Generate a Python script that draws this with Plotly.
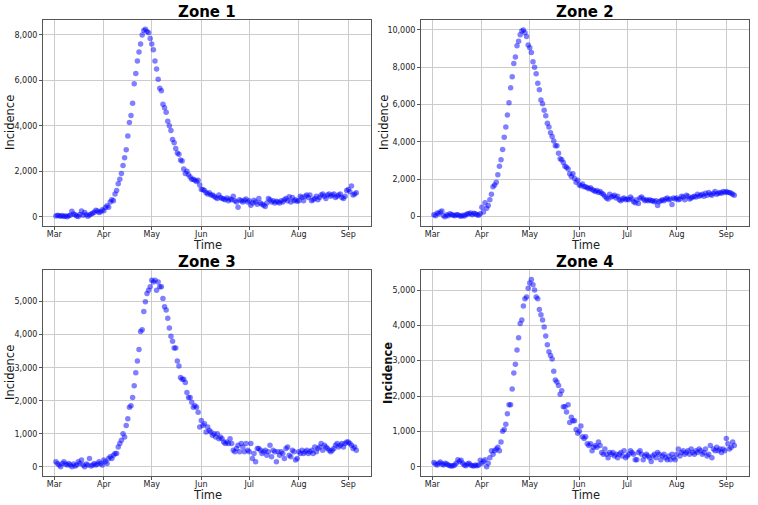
import pandas as pd
import plotly.graph_objects as go

dates = pd.date_range("2020-03-02", "2020-09-06", freq="D")

zone1 = (
    [30, 60, 40, 20, 50, 10, 30, 0, 40, 60, 240, 120, 80, 30, 10, 100, 250, 60, 180, 90,
     20, 70, 120, 150, 200, 280, 250, 180, 220, 300]
    + [260, 400, 480, 420, 650, 750, 700, 1000, 1150, 1450, 1650, 1900, 2250, 2600, 2950, 3550, 4150, 4450, 5000, 5850,
       6300, 6850, 7250, 7600, 8000, 8200, 8250, 8150, 8100, 7850]
    + [7600, 7350, 6850, 6500, 6050, 5650, 5550, 4950, 4800, 4600, 4200, 4000, 3800, 3400, 3250, 3000, 2800, 2750, 2500, 2450,
       2100, 1900, 2000, 1850, 1750, 1650, 1650, 1600, 1550, 1600, 1400]
    + [1200, 1200, 1150, 1050, 1000, 1050, 950, 950, 900, 850, 800, 950, 850, 800, 780, 750, 820, 700, 780, 750,
       900, 700, 650, 420, 750, 700, 650, 720, 780, 650]
    + [700, 500, 600, 720, 650, 550, 800, 600, 550, 500, 450, 600, 800, 750, 650, 700, 600, 680, 650, 600,
       700, 650, 750, 800, 700, 880, 650, 850, 700, 750, 680]
    + [700, 900, 850, 700, 900, 950, 850, 950, 700, 750, 800, 900, 750, 850, 950, 1000, 900, 800, 950, 1000,
       900, 950, 1000, 850, 900, 950, 1000, 850, 800, 900, 1150]
    + [1200, 1100, 1350, 950, 1000, 1050]
)

zone2 = (
    [100, 50, 200, 150, 250, 300, 50, 0, 100, 50, 150, 120, 80, 50, 100, 100, 50, 20, 80, 30,
     100, 150, 150, 200, 100, 180, 150, 100, 80, 150]
    + [500, 250, 750, 450, 600, 900, 1200, 1600, 1700, 1850, 2250, 2700, 3050, 3600, 4250, 4800, 5450, 6100, 6900, 7500,
       8200, 8550, 9150, 9400, 9750, 9950, 10000, 9850, 9650, 9200]
    + [9050, 8800, 8300, 8000, 7650, 7150, 6800, 6250, 6050, 5700, 5400, 5000, 4800, 4500, 4300, 4050, 3800, 3800, 3400, 3100,
       3050, 2900, 2700, 2650, 2550, 2300, 2150, 2300, 2050, 1850, 1950]
    + [1700, 1650, 1750, 1600, 1600, 1550, 1500, 1550, 1450, 1400, 1350, 1400, 1300, 1350, 1250, 1200, 1100, 1000, 950, 1200,
       1050, 1100, 1150, 1000, 1100, 900, 850, 950, 1000, 900]
    + [950, 900, 1050, 950, 800, 750, 900, 700, 1000, 1050, 950, 850, 900, 850, 900, 850, 850, 800, 850, 600,
       800, 850, 900, 850, 950, 1000, 900, 950, 650, 1000, 950]
    + [1000, 900, 950, 1100, 1050, 900, 1150, 1100, 950, 1000, 1050, 1100, 1050, 1200, 1100, 1150, 1200, 1100, 1250, 1150,
       1300, 1200, 1150, 1250, 1350, 1200, 1250, 1300, 1250, 1350, 1300]
    + [1350, 1300, 1300, 1250, 1200, 1150]
)

zone3 = (
    [150, 100, 50, 0, 100, 150, 80, 50, 100, 50, 0, 80, 20, 50, 150, 100, 200, 50, 0, 80,
     50, 250, 20, 50, 100, 50, 80, 150, 100, 50]
    + [200, 150, 100, 250, 300, 250, 350, 400, 400, 600, 700, 800, 1000, 900, 1250, 1450, 1800, 1850, 2100, 2450,
       2850, 3200, 3550, 4100, 4150, 4700, 5000, 5250, 5350, 5450]
    + [5650, 5600, 5650, 5350, 5600, 5450, 5450, 5100, 4850, 4750, 4500, 4200, 3950, 3800, 3600, 3600, 3200, 3050, 2700, 2650,
       2650, 2550, 2250, 2100, 2100, 1950, 1800, 1850, 1800, 1650, 1200]
    + [1400, 1250, 1300, 1050, 1200, 1100, 1050, 950, 1000, 900, 1000, 850, 900, 850, 750, 700, 750, 700, 850, 700,
       500, 450, 550, 650, 450, 700, 600, 450, 700, 500]
    + [450, 700, 250, 400, 150, 550, 550, 500, 400, 450, 500, 350, 450, 650, 300, 500, 450, 150, 450, 350,
       450, 400, 250, 550, 600, 350, 300, 500, 450, 200, 250]
    + [450, 400, 500, 400, 450, 500, 400, 450, 500, 400, 600, 450, 550, 600, 700, 500, 650, 600, 550, 500,
       450, 500, 550, 650, 700, 600, 650, 700, 600, 700, 750]
    + [750, 700, 650, 550, 600, 500]
)

zone4 = (
    [120, 80, 50, 100, 130, 80, 50, 100, 80, 50, 30, 20, 30, 50, 100, 200, 150, 180, 100, 50,
     30, 80, 100, 50, 30, 20, 50, 30, 50, 180]
    + [100, 150, 200, 0, 100, 250, 450, 350, 450, 500, 550, 450, 700, 1000, 1050, 1200, 1500, 1750, 1750, 2200,
       2650, 2900, 3300, 3650, 4050, 4150, 4550, 4750, 4800, 5050]
    + [5200, 5300, 5150, 5000, 4800, 4750, 4450, 4300, 4150, 3950, 3700, 3450, 3250, 3150, 3050, 2700, 2450, 2400, 2300, 2050,
       2150, 1700, 1700, 1550, 1750, 1250, 1400, 1300, 1300, 1050, 950]
    + [1000, 1150, 850, 800, 850, 650, 600, 650, 450, 550, 600, 550, 700, 600, 400, 350, 500, 350, 250, 400,
       350, 400, 300, 350, 250, 350, 400, 300, 450, 250]
    + [300, 350, 450, 400, 350, 200, 200, 400, 450, 350, 200, 300, 350, 300, 250, 150, 300, 350, 250, 400,
       350, 200, 300, 350, 250, 200, 300, 200, 350, 250, 200]
    + [350, 500, 300, 400, 450, 350, 400, 450, 350, 500, 400, 350, 450, 400, 500, 450, 350, 400, 500, 300,
       350, 600, 250, 500, 450, 550, 450, 500, 400, 500, 450]
    + [800, 650, 500, 550, 700, 600]
)

zones = [zone1, zone2, zone3, zone4]
titles = ["Zone 1", "Zone 2", "Zone 3", "Zone 4"]
month_ticks = ["2020-03-01", "2020-04-01", "2020-05-01", "2020-06-01", "2020-07-01", "2020-08-01", "2020-09-01"]
month_labels = ["Mar", "Apr", "May", "Jun", "Jul", "Aug", "Sep"]
y_ticks = [
    [0, 2000, 4000, 6000, 8000],
    [0, 2000, 4000, 6000, 8000, 10000],
    [0, 1000, 2000, 3000, 4000, 5000],
    [0, 1000, 2000, 3000, 4000, 5000],
]
y_ranges = [[-410, 8660], [-500, 10535], [-282, 5960], [-263, 5566]]

W, H = 758, 505
x_doms = [[43 / W, 371 / W], [421 / W, 749 / W], [43 / W, 371 / W], [421 / W, 749 / W]]
y_doms = [[1 - 226 / H, 1 - 20 / H], [1 - 226 / H, 1 - 20 / H], [1 - 476 / H, 1 - 270 / H], [1 - 476 / H, 1 - 270 / H]]
x_range = ["2020-02-22 22:00:00", "2020-09-15 05:00:00"]

FONT = "DejaVu Sans"
fig = go.Figure()
layout = {}
annotations = []
ylab_x = [10, 384, 10, 388]
for i in range(4):
    n = "" if i == 0 else str(i + 1)
    fig.add_trace(go.Scatter(
        x=dates, y=zones[i], mode="markers",
        marker=dict(color="rgb(0,0,255)", size=5.5, opacity=0.5, line=dict(width=0)),
        xaxis="x" + n, yaxis="y" + n, showlegend=False,
    ))
    axcommon = dict(
        showgrid=True, gridcolor="#cccccc", gridwidth=1, zeroline=False,
        showline=True, mirror=True, linecolor="#555555", linewidth=1,
        ticks="outside", ticklen=3, tickcolor="#555555",
        tickfont=dict(family=FONT, size=8, color="#222222"), automargin=False,
    )
    layout["xaxis" + n] = dict(
        axcommon, domain=x_doms[i], range=x_range, type="date",
        tickvals=month_ticks, ticktext=month_labels, anchor="y" + n,
        ticklabelstandoff=-3,
    )
    layout["yaxis" + n] = dict(
        axcommon, domain=y_doms[i], range=y_ranges[i],
        tickvals=y_ticks[i], tickformat=",", anchor="x" + n,
    )
    xc = (x_doms[i][0] + x_doms[i][1]) / 2
    top_px = 20 if i < 2 else 270
    bot_px = 226 if i < 2 else 476
    annotations.append(dict(
        text="<b>" + titles[i] + "</b>", x=xc, y=1 - (top_px - 8) / H, xref="paper", yref="paper",
        showarrow=False, font=dict(family=FONT, size=15, color="black"), yanchor="middle", xanchor="center",
    ))
    annotations.append(dict(
        text="Time", x=xc, y=1 - (bot_px + 19) / H, xref="paper", yref="paper",
        showarrow=False, font=dict(family=FONT, size=11.5, color="#222222"), yanchor="middle", xanchor="center",
    ))
    ylab = "<b>Incidence</b>" if i == 3 else "Incidence"
    annotations.append(dict(
        text=ylab, x=ylab_x[i] / W, y=1 - ((top_px + bot_px) / 2) / H, xref="paper", yref="paper",
        showarrow=False, textangle=-90, font=dict(family=FONT, size=11.5, color="#111111"),
        yanchor="middle", xanchor="center",
    ))

fig.update_layout(
    **layout,
    annotations=annotations,
    width=W, height=H,
    margin=dict(l=0, r=0, t=0, b=0),
    paper_bgcolor="white", plot_bgcolor="white",
    font=dict(family=FONT),
)
fig.write_html(
    "out.html",
    config={"displayModeBar": False},
    post_script="document.body.style.margin='0';document.body.style.overflow='hidden';",
)
